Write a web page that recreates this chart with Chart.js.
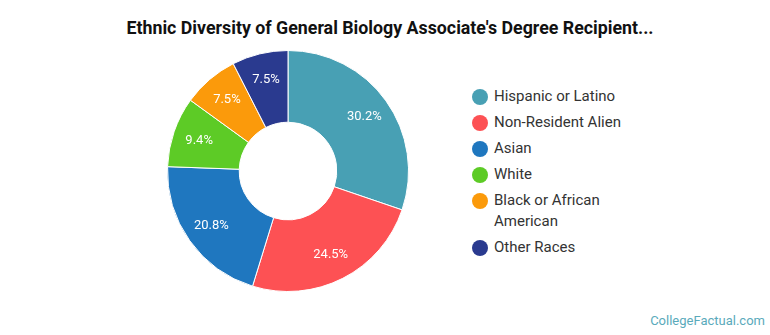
<!DOCTYPE html>
<html>
<head>
<meta charset="utf-8">
<script src="https://cdn.jsdelivr.net/npm/chart.js@4/dist/chart.umd.min.js"></script>
<style>
  html, body { margin: 0; padding: 0; background: #fff; }
  #wrap { position: relative; width: 770px; height: 335px; overflow: hidden; font-family: Roboto, "Open Sans", sans-serif; }
  #title { position: absolute; left: 0; width: 780px; top: 17px; text-align: center; font-weight: bold; font-size: 17.8px; color: #111; white-space: nowrap; }
  #chartBox { position: absolute; left: 160px; top: 43px; width: 256px; height: 256px; }
  #legend { position: absolute; left: 472px; top: 86px; width: 200px; }
  .li { position: relative; padding-left: 22px; font-size: 15px; line-height: 21px; color: #333; margin-bottom: 5px; }
  .dot { position: absolute; left: 0; top: 3px; width: 16px; height: 16px; border-radius: 50%; }
  #mark { position: absolute; right: 5px; top: 313px; font-size: 13px; color: #5aaabb; }
</style>
</head>
<body>
<div id="wrap">
  <div id="title">Ethnic Diversity of General Biology Associate's Degree Recipient...</div>
  <div id="chartBox"><canvas id="c"></canvas></div>
  <div id="legend"></div>
  <div id="mark">CollegeFactual.com</div>
</div>
<script>
const categories = ["Hispanic or Latino", "Non-Resident Alien", "Asian", "White", "Black or African American", "Other Races"];
const legendLines = [["Hispanic or Latino"], ["Non-Resident Alien"], ["Asian"], ["White"], ["Black or African", "American"], ["Other Races"]];
const shares = [30.2, 24.5, 20.8, 9.4, 7.5, 7.5];
const colors = ["#48a0b4", "#fd5154", "#1f77bf", "#5dcb26", "#fb9a0b", "#2a3a8f"];

const sliceLabels = {
  id: "sliceLabels",
  afterDatasetsDraw(chart) {
    const ctx = chart.ctx;
    const meta = chart.getDatasetMeta(0);
    ctx.save();
    ctx.font = "13px Roboto, sans-serif";
    ctx.fillStyle = "#ffffff";
    ctx.textAlign = "center";
    ctx.textBaseline = "middle";
    meta.data.forEach((arc, i) => {
      const p = arc.getProps(["x", "y", "startAngle", "endAngle", "innerRadius", "outerRadius"], true);
      const a = (p.startAngle + p.endAngle) / 2;
      const r = p.innerRadius + 0.63 * (p.outerRadius - p.innerRadius);
      ctx.fillText(shares[i].toFixed(1) + "%", p.x + Math.cos(a) * r, p.y + Math.sin(a) * r);
    });
    ctx.restore();
  }
};

new Chart(document.getElementById("c"), {
  type: "doughnut",
  data: {
    labels: categories,
    datasets: [{ data: shares, backgroundColor: colors, borderColor: "#ffffff", borderWidth: 1 }]
  },
  options: {
    responsive: true,
    maintainAspectRatio: false,
    animation: false,
    cutout: "40.5%",
    layout: { padding: 7 },
    plugins: { legend: { display: false }, tooltip: { enabled: false } }
  },
  plugins: [sliceLabels]
});

const lg = document.getElementById("legend");
legendLines.forEach((lines, i) => {
  const d = document.createElement("div");
  d.className = "li";
  const dot = document.createElement("span");
  dot.className = "dot";
  dot.style.background = colors[i];
  d.appendChild(dot);
  lines.forEach((t, k) => {
    if (k > 0) d.appendChild(document.createElement("br"));
    d.appendChild(document.createTextNode(t));
  });
  lg.appendChild(d);
});
</script>
</body>
</html>
